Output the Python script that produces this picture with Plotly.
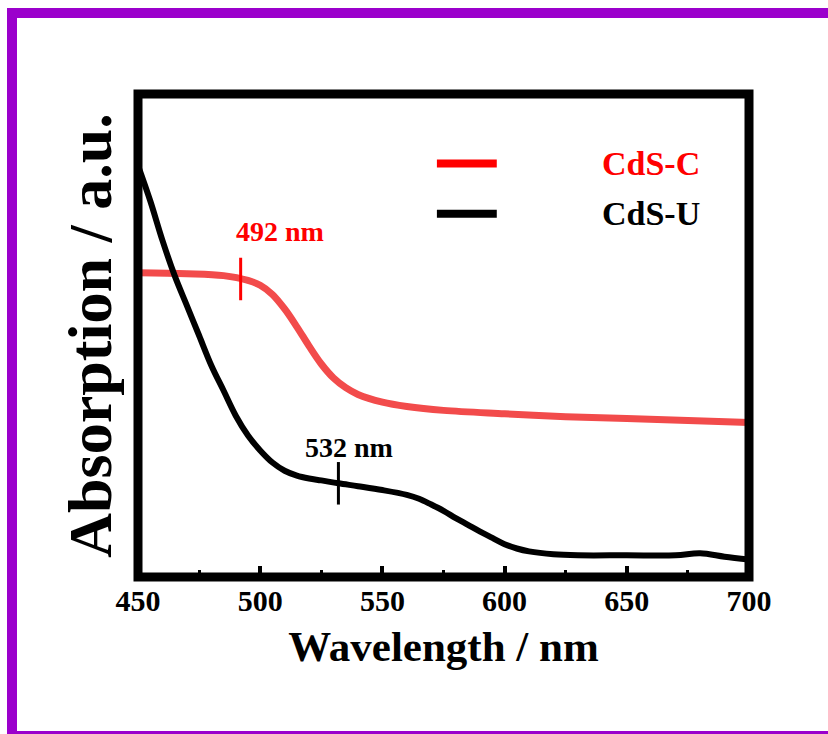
import numpy as np
import plotly.graph_objects as go

# UV-vis absorption spectra (arbitrary units)
wl_c = [450, 470, 485, 495, 500, 505, 510, 515, 520, 525, 530, 535, 540, 550,
        560, 575, 600, 625, 650, 675, 700]
abs_c = [0.630, 0.628, 0.624, 0.614, 0.604, 0.585, 0.555, 0.518, 0.478, 0.441,
         0.412, 0.392, 0.378, 0.362, 0.353, 0.345, 0.338, 0.332, 0.328, 0.324,
         0.320]

wl_u = [450, 455, 460, 465, 470, 475, 480, 485, 490, 495, 500, 505, 510, 515,
        520, 525, 532, 540, 550, 560, 565, 570, 575, 580, 585, 590, 595, 600,
        605, 610, 620, 630, 650, 670, 680, 690, 700]
abs_u = [0.852, 0.779, 0.697, 0.624, 0.562, 0.500, 0.438, 0.386, 0.334, 0.293,
         0.262, 0.237, 0.220, 0.210, 0.204, 0.200, 0.194, 0.188, 0.180, 0.170,
         0.162, 0.150, 0.137, 0.122, 0.108, 0.094, 0.081, 0.068, 0.059, 0.053,
         0.047, 0.045, 0.045, 0.045, 0.049, 0.042, 0.036]

series_names = ["CdS-C", "CdS-U"]
edge_wl = [492, 532]          # band-edge positions marked on each curve
x_ticks = [450, 500, 550, 600, 650, 700]

W, H = 828, 734
ML, MR, MT, MB = 138, 79, 94, 157
PW, PH = W - ML - MR, H - MT - MB

RED_CURVE = "#F24B4B"
RED = "#FF0000"
FONT = "Liberation Serif"


def px_to_paper_x(px):
    return (px - ML) / PW


def py_to_paper_y(py):
    return (H - MB - py) / PH


fig = go.Figure()
fig.add_trace(go.Scatter(x=wl_c, y=abs_c, mode="lines", name=series_names[0],
                         line=dict(color=RED_CURVE, width=7, shape="spline", smoothing=1.0),
                         showlegend=False))
fig.add_trace(go.Scatter(x=wl_u, y=abs_u, mode="lines", name=series_names[1],
                         line=dict(color="black", width=6, shape="spline", smoothing=1.0),
                         showlegend=False))

shapes = []
annotations = []

# band-edge markers with their labels
for wl, xs, ys, col, lab_dx, lab_dy in [
    (edge_wl[0], wl_c, abs_c, RED, 16, 0.098),
    (edge_wl[1], wl_u, abs_u, "black", 4.5, 0.074),
]:
    yc = float(np.interp(wl, xs, ys))
    shapes.append(dict(type="line", xref="x", yref="y", x0=wl, x1=wl,
                       y0=yc - 0.044, y1=yc + 0.044, line=dict(color=col, width=3)))
    annotations.append(dict(x=wl + lab_dx, y=yc + lab_dy, xref="x", yref="y",
                            text=f"{wl} nm", showarrow=False,
                            font=dict(family=FONT, size=28, color=col, weight="bold")))

# legend drawn as sample lines and labels
for name, col, ly in [(series_names[0], RED, 0.856), (series_names[1], "black", 0.752)]:
    shapes.append(dict(type="line", xref="x", yref="y", x0=572.3, x1=596.8,
                       y0=ly, y1=ly, line=dict(color=col, width=8)))
    annotations.append(dict(x=660, y=ly, xref="x", yref="y", text=name, showarrow=False,
                            font=dict(family=FONT, size=34, color=col, weight="bold")))

# plot frame
shapes.append(dict(type="rect", xref="paper", yref="paper", x0=0, x1=1, y0=0, y1=1,
                   line=dict(color="black", width=9), layer="above"))

# purple outer border
PURPLE = "#9B00CC"
for x0, x1, y0, y1 in [(7, 17, 8, 740), (7, 840, 8, 18), (7, 840, 731, 740)]:
    shapes.append(dict(type="rect", xref="paper", yref="paper",
                       x0=px_to_paper_x(x0), x1=px_to_paper_x(x1),
                       y0=py_to_paper_y(y1), y1=py_to_paper_y(y0),
                       fillcolor=PURPLE, line=dict(width=0), layer="above"))

fig.update_layout(
    width=W, height=H,
    margin=dict(l=ML, r=MR, t=MT, b=MB, pad=0),
    paper_bgcolor="white", plot_bgcolor="white",
    shapes=shapes, annotations=annotations,
    showlegend=False,
    xaxis=dict(range=[450, 700], tickvals=x_ticks, ticks="inside", ticklen=11,
               tickwidth=4, tickcolor="black", showgrid=False, zeroline=False,
               showline=False,
               minor=dict(tickvals=[475, 525, 575, 625, 675], ticks="inside",
                          ticklen=7, tickwidth=3, tickcolor="black"),
               tickfont=dict(family=FONT, size=30, color="black", weight="bold"),
               ticklabelstandoff=3,
               title=dict(text="Wavelength / nm", standoff=14,
                          font=dict(family=FONT, size=43, color="black", weight="bold"))),
    yaxis=dict(range=[0, 1], showticklabels=False, ticks="", showgrid=False,
               zeroline=False, showline=False,
               title=dict(text="Absorption / a.u.", standoff=5,
                          font=dict(family=FONT, size=62, color="black", weight="bold"))),
)

fig.write_html("out.html")
